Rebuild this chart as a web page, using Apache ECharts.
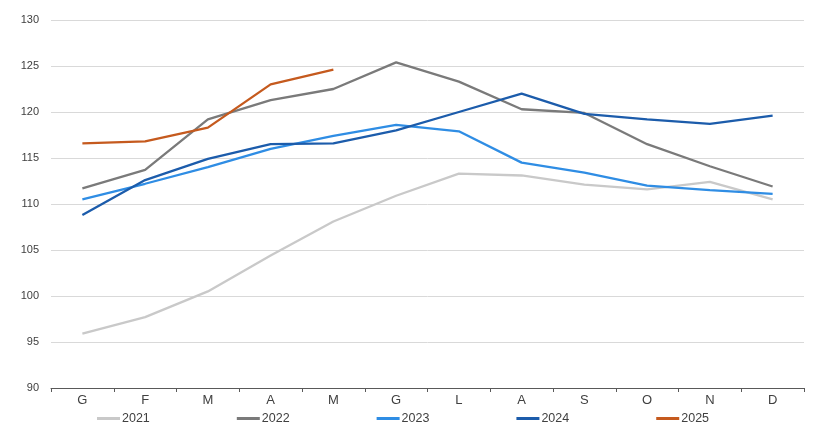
<!DOCTYPE html>
<html><head><meta charset="utf-8">
<script src="https://cdn.jsdelivr.net/npm/echarts@6/dist/echarts.min.js"></script>
<style>html,body{margin:0;padding:0;background:#fff}#c{width:820px;height:433px}</style>
</head><body><div id="c"></div>
<script>
const months = ['G','F','M','A','M','G','L','A','S','O','N','D'];
const yTicks = [90,95,100,105,110,115,120,125,130];
const s2021 = [95.9,97.7,100.5,104.4,108.1,110.9,113.3,113.1,112.1,111.6,112.4,110.5];
const s2022 = [111.7,113.7,119.2,121.3,122.5,125.4,123.3,120.3,119.9,116.5,114.1,111.9];
const s2023 = [110.5,112.2,114.0,116.0,117.4,118.6,117.9,114.5,113.4,112.0,111.5,111.1];
const s2024 = [108.8,112.6,114.9,116.5,116.6,118.0,120.0,122.0,119.8,119.2,118.7,119.6];
const s2025 = [116.6,116.8,118.3,123.0,124.6];
const names = ['2021','2022','2023','2024','2025'];
const colors = ['#c9c9c9','#7a7a7a','#2f8de4','#1c5cab','#c55a1e'];
const data = [s2021,s2022,s2023,s2024,s2025];
const chart = echarts.init(document.getElementById('c'));
chart.setOption({
  animation:false,
  grid:{left:51,right:16,top:20,bottom:45},
  legend:{
    bottom:3,left:92,itemGap:87,icon:'rect',itemWidth:23,itemHeight:3,
    textStyle:{fontSize:12.5,color:'#404040',fontFamily:'Liberation Sans',padding:[0,0,0,-3]},
    data:names
  },
  xAxis:{
    type:'category',data:months,boundaryGap:true,
    axisLine:{lineStyle:{color:'#595959',width:1}},
    axisTick:{show:true,length:4,lineStyle:{color:'#595959'}},
    axisLabel:{fontSize:13,color:'#404040',margin:6,fontFamily:'Liberation Sans'}
  },
  yAxis:{
    type:'value',min:yTicks[0],max:yTicks[yTicks.length-1],interval:5,
    axisLine:{show:false},axisTick:{show:false},
    axisLabel:{fontSize:11,color:'#404040',margin:12,fontFamily:'Liberation Sans'},
    splitLine:{lineStyle:{color:'#d9d9d9',width:1}}
  },
  series:data.map((d,i)=>({
    name:names[i],type:'line',data:d,showSymbol:false,symbol:'none',
    lineStyle:{width:2.3,color:colors[i]},itemStyle:{color:colors[i]}
  }))
});
</script></body></html>
